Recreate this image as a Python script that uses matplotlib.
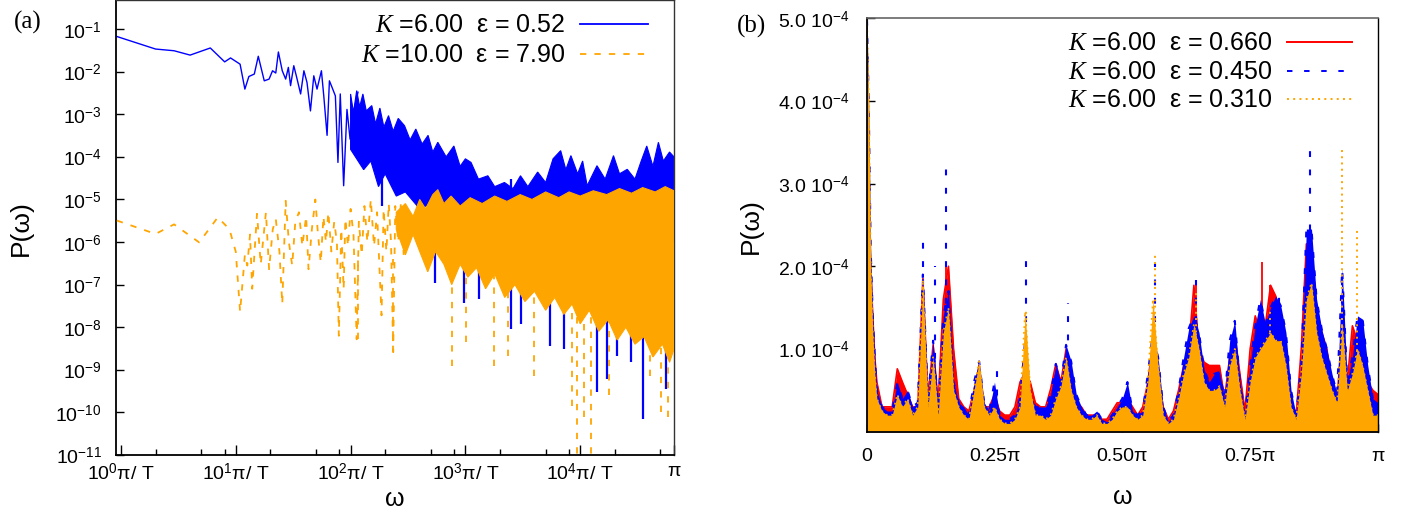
import numpy as np
import matplotlib
matplotlib.use("Agg")
import matplotlib.pyplot as plt
from matplotlib.ticker import NullFormatter

plt.rcParams['font.family'] = ['Liberation Sans', 'DejaVu Sans']
plt.rcParams['mathtext.fontset'] = 'custom'
plt.rcParams['mathtext.rm'] = 'Liberation Sans'
plt.rcParams['mathtext.it'] = 'Liberation Serif:italic'
plt.rcParams['mathtext.bf'] = 'Liberation Sans:bold'

# ---------------- Panel (a) data (omega in units of pi/T, T = 2^16) ----------------
T_a = 65536
# K=6.00, eps=0.52 : sparse low-frequency part
blue_x = [0.92, 2.0, 2.9, 4.0, 6.0, 8.0, 9.0, 10.9, 12.0, 13.0, 14.5, 15.7, 17.7, 19.5,
          20.9, 22.3, 23.5, 25.4, 27.2, 28.7, 30, 32, 33.9, 36.7, 39.2, 41.7, 44.7, 47.8,
          51, 55.7, 58.4, 62.4, 65.4, 68.9, 73.7, 77.6, 81.3, 87, 93, 99, 106, 116]
blue_P = [0.067, 0.034, 0.031, 0.0245, 0.036, 0.017, 0.021, 0.015, 0.0039, 0.0077, 0.0088,
          0.023, 0.0061, 0.0067, 0.0105, 0.0093, 0.029, 0.0105, 0.0067, 0.0126, 0.0047,
          0.0138, 0.0074, 0.0030, 0.0105, 0.0056, 0.0012, 0.0080, 0.0039, 0.0105, 0.0027,
          3.2e-4, 0.0061, 0.0043, 0.0027, 7.4e-5, 0.003, 2.1e-5, 0.0013, 2.6e-4, 0.0011, 0.0033]
# dense part: upper and lower edge of the band
blue_hi_x = [100, 106, 113, 120, 128, 137, 153, 165, 180, 195, 214, 235, 260, 295, 330, 370,
             420, 473, 520, 575, 680, 794, 900, 1000, 1120, 1300, 1570, 1800, 2190, 2600,
             3020, 3500, 4260, 5000, 5800, 6760, 7500, 8300, 9500, 10500, 11500, 14000,
             16500, 19500, 22000, 25700, 30000, 34000, 38000, 43000, 48000, 53000, 60000, 65536]
blue_hi_P = [3.0e-3, 1.1e-3, 3.6e-3, 1.5e-3, 3.0e-3, 1.2e-3, 1.6e-3, 6e-4, 1.4e-3, 5e-4,
             9.3e-4, 4e-4, 8e-4, 5.4e-4, 2.5e-4, 4.5e-4, 2.0e-4, 3.2e-4, 1.3e-4, 2.2e-4,
             1.0e-4, 1.8e-4, 6e-5, 9e-5, 7.4e-5, 3e-5, 3.6e-5, 2e-5, 2.5e-5, 1.8e-5, 3.6e-5,
             2e-5, 4.4e-5, 2.5e-5, 9e-5, 1.4e-4, 5e-5, 1.07e-4, 4e-5, 8e-5, 2.1e-5, 6.2e-5,
             3e-5, 1.07e-4, 4e-5, 5.1e-5, 3e-5, 8e-5, 1.8e-4, 6e-5, 2.2e-4, 8e-5, 1.3e-4, 1.0e-4]
blue_lo_x = [100, 130, 150, 175, 200, 250, 300, 400, 500, 1000, 3000, 10000, 65536]
blue_lo_P = [1.5e-4, 5e-5, 8e-5, 2e-5, 4e-5, 1.2e-5, 1.5e-5, 6e-6, 8e-6, 4e-6, 2e-6, 1.5e-6, 1e-6]
blue_drop_x = [186, 390, 540, 980, 1320, 2500, 3020, 5500, 7200, 14000, 17000, 21000, 27500, 35500, 56000]
blue_drop_P = [7e-6, 2.9e-6, 1.1e-7, 3.8e-8, 4.6e-8, 9e-9, 1.2e-8, 3.7e-9, 3.1e-9, 3e-10,
               6e-10, 2.1e-9, 1.5e-9, 7e-11, 3.5e-10]

# K=10.00, eps=7.90
orange_x = [0.92, 2.0, 2.9, 4.8, 6.97, 8.8, 10.0, 10.9, 12.0, 12.6, 13.3, 13.9, 15.3, 16.5,
            18.3, 19.5, 21, 22.3, 24, 25.4, 27.2, 29, 31, 33, 35.5, 38, 41, 43, 46, 49.3,
            52, 55, 58, 61, 64, 68, 72, 76, 79, 83, 87, 90, 95, 100, 106, 113, 118, 125,
            132, 140, 150, 160, 170, 186, 194, 205, 215, 225, 235, 245, 260, 275, 290]
orange_P = [3.2e-6, 1.55e-6, 2.6e-6, 9.8e-7, 3.8e-6, 2.0e-6, 5.9e-7, 2.3e-8, 5e-7, 2.8e-7,
            1.5e-6, 8e-8, 4.6e-6, 3e-7, 5e-6, 2.3e-7, 2e-6, 3.5e-6, 6e-7, 3.5e-8, 9.3e-6,
            1e-6, 2.8e-7, 3e-6, 5e-6, 8e-7, 4e-6, 2.3e-7, 2e-6, 1e-5, 1.5e-6, 3.3e-7, 4e-6,
            1e-6, 5e-6, 6e-7, 3e-6, 1e-6, 6.3e-9, 2e-6, 7.9e-8, 3.5e-6, 8e-7, 6e-6, 1.5e-6,
            5.2e-9, 3e-6, 5e-7, 7e-6, 1e-6, 1e-5, 8e-7, 5e-6, 1.9e-8, 5.9e-6, 6e-7, 8e-6,
            1e-6, 2.6e-9, 7e-6, 1e-6, 9e-6, 5e-7]
orange_hi_x = [250, 300, 350, 400, 450, 520, 575, 650, 750, 900, 1100, 1400, 1800, 2300,
               3000, 3800, 5000, 6500, 8000, 10000, 13000, 17000, 22000, 28000, 35000,
               45000, 55000, 65536]
orange_hi_P = [5e-6, 8e-6, 4e-6, 1e-5, 6e-6, 1.3e-5, 1.7e-5, 8e-6, 1.2e-5, 7e-6, 1.1e-5,
               8e-6, 1.2e-5, 9e-6, 1.3e-5, 1e-5, 1.5e-5, 1.1e-5, 1.5e-5, 1.2e-5, 1.6e-5,
               1.3e-5, 1.8e-5, 1.4e-5, 1.9e-5, 1.5e-5, 2.0e-5, 1.6e-5]
orange_lo_x = [250, 300, 350, 400, 470, 550, 650, 760, 900, 1050, 1250, 1500, 1800, 2200,
               2700, 3300, 4000, 5000, 6000, 7200, 8500, 10000, 12000, 14500, 17500, 21000,
               25000, 30000, 36000, 43000, 52000, 60000, 65536]
orange_lo_P = [2e-6, 5e-7, 1.5e-6, 6e-7, 2e-7, 6e-7, 3e-7, 1e-7, 3e-7, 1.5e-7, 2.5e-7,
               8e-8, 1.8e-7, 5e-8, 1e-7, 4e-8, 7e-8, 2.5e-8, 5e-8, 2e-8, 3.5e-8, 1.2e-8,
               2.5e-8, 8e-9, 1.5e-8, 5e-9, 1e-8, 4e-9, 6e-9, 2e-9, 4e-9, 1.5e-9, 3e-9]
orange_drop_x = [117, 235, 760, 1020, 1780, 2340, 3980, 8500, 9400, 10700, 12300, 17700, 40700, 51000, 58600]
orange_drop_P = [5.2e-9, 2.6e-9, 1.25e-9, 4.5e-9, 1.25e-9, 2.1e-9, 7.2e-10, 1.4e-10, 5e-12,
                 8e-11, 5e-12, 2.5e-10, 7.2e-10, 1e-10, 8e-11]

xticks_a = [1, 10, 100, 1000, 10000, T_a]
xticklabels_a = ['$10^{0}$π/ T', '$10^{1}$π/ T', '$10^{2}$π/ T', '$10^{3}$π/ T', '$10^{4}$π/ T', 'π']
yticks_a = [1e-1, 1e-2, 1e-3, 1e-4, 1e-5, 1e-6, 1e-7, 1e-8, 1e-9, 1e-10, 1e-11]
yticklabels_a = ['$10^{-%d}$' % k for k in range(1, 12)]
legend_a = ['$K$ =6.00  ε = 0.52', '$K$ =10.00  ε = 7.90']

# ---------------- Panel (b) data (omega in units of pi, P in units of 1e-4) ----------------
omega_b = np.concatenate([[0.0, 0.004, 0.008, 0.012, 0.016], np.arange(0.02, 1.0001, 0.01)])
P_red = [5.2, 2.7, 2.0, 1.4, 0.9, 0.6,
         0.3, 0.3, 0.3, 0.76, 0.6, 0.45, 0.3, 0.3, 1.85, 0.4, 1.05, 0.35, 1.6, 2.0, 1.0, 0.4,
         0.3, 0.25, 0.5, 0.8, 0.3, 0.3, 0.45, 0.25, 0.2, 0.2, 0.3, 0.6, 0.72, 0.6, 0.35, 0.3,
         0.3, 0.52, 0.82, 0.6, 1.0, 0.6, 0.35, 0.3, 0.2, 0.2, 0.2, 0.15, 0.15, 0.25, 0.35,
         0.35, 0.4, 0.3, 0.2, 0.3, 0.6, 1.1, 0.7, 0.3, 0.15, 0.25, 0.5, 0.8, 1.0, 1.77, 1.0,
         0.84, 0.8, 0.8, 0.8, 0.4, 0.9, 1.18, 0.7, 0.25, 1.0, 1.4, 1.2, 1.3, 1.77, 1.64, 1.4,
         1.0, 0.4, 0.2, 1.0, 2.27, 2.2, 1.5, 1.2, 1.0, 0.6, 0.4, 1.2, 0.6, 1.28, 1.1, 0.8,
         0.6, 0.5, 0.45]
P_blue = [5.2, 4.0, 2.2, 1.4, 0.9, 0.5,
          0.3, 0.25, 0.25, 0.6, 0.4, 0.5, 0.3, 0.35, 1.9, 0.4, 1.1, 0.3, 1.4, 1.7, 0.6, 0.35,
          0.3, 0.2, 0.6, 0.85, 0.35, 0.25, 0.6, 0.2, 0.15, 0.15, 0.2, 0.4, 1.1, 0.45, 0.3, 0.3,
          0.3, 0.45, 0.82, 0.6, 1.05, 0.85, 0.45, 0.3, 0.2, 0.2, 0.25, 0.15, 0.12, 0.2, 0.3,
          0.4, 0.6, 0.25, 0.2, 0.25, 0.7, 1.2, 0.9, 0.3, 0.12, 0.2, 0.5, 0.9, 1.25, 1.4, 1.2,
          0.75, 0.6, 0.7, 0.72, 0.4, 1.1, 1.34, 0.6, 0.2, 0.8, 1.28, 1.6, 1.3, 1.5, 1.64, 1.52,
          1.2, 0.5, 0.2, 0.8, 2.45, 2.45, 1.6, 1.24, 1.0, 0.7, 0.45, 1.97, 0.6, 0.9, 1.4, 1.36,
          0.8, 0.4, 0.35]
P_orange = [5.2, 4.0, 2.0, 1.2, 0.7, 0.4,
            0.25, 0.2, 0.2, 0.45, 0.3, 0.4, 0.2, 0.3, 1.8, 0.3, 0.9, 0.2, 1.2, 1.5, 0.5, 0.3,
            0.2, 0.15, 0.5, 0.85, 0.3, 0.2, 0.3, 0.15, 0.1, 0.1, 0.15, 0.3, 1.45, 0.5, 0.2, 0.2,
            0.15, 0.2, 0.4, 0.55, 0.9, 0.5, 0.3, 0.2, 0.15, 0.15, 0.2, 0.1, 0.1, 0.15, 0.25,
            0.3, 0.3, 0.2, 0.15, 0.2, 0.6, 1.6, 0.8, 0.2, 0.1, 0.15, 0.4, 0.7, 0.9, 1.3, 1.0,
            0.6, 0.5, 0.5, 0.55, 0.3, 0.8, 1.0, 0.5, 0.15, 0.6, 0.9, 1.0, 1.1, 1.2, 1.1, 1.1,
            0.8, 0.3, 0.15, 0.7, 1.6, 1.8, 1.2, 0.9, 0.7, 0.5, 0.35, 1.3, 0.5, 0.7, 1.0, 0.8,
            0.5, 0.2, 0.2]
red_spike_x = [0.006, 0.155, 0.645, 0.773, 0.788]
red_spike_P = [2.7, 2.0, 1.77, 2.05, 1.77]
blue_spike_x = [0.111, 0.133, 0.155, 0.254, 0.312, 0.393, 0.563, 0.645, 0.807, 0.868, 0.930]
blue_spike_P = [2.4, 2.0, 3.3, 0.85, 2.07, 1.55, 2.03, 1.83, 1.65, 3.40, 1.97]
orange_spike_x = [0.111, 0.312, 0.563, 0.645, 0.788, 0.930, 0.959]
orange_spike_P = [1.85, 1.48, 2.15, 1.73, 1.46, 3.40, 2.45]
unit_b = 1e-4
xticks_b = [0.0, 0.25, 0.5, 0.75, 1.0]
xticklabels_b = ['0', '0.25π', '0.50π', '0.75π', 'π']
yticks_b = [1e-4, 2e-4, 3e-4, 4e-4, 5e-4]
yticklabels_b = ['1.0 $10^{-4}$', '2.0 $10^{-4}$', '3.0 $10^{-4}$', '4.0 $10^{-4}$', '5.0 $10^{-4}$']
legend_b = ['$K$ =6.00  ε = 0.660', '$K$ =6.00  ε = 0.450', '$K$ =6.00  ε = 0.310']

BLUE = '#0000ff'
ORANGE = '#ffa500'
RED = '#ff0000'
DASH_A = (0, (3.5, 4.5))
DASH_B = (0, (2.8, 6.0))
DOT_B = (0, (1.0, 2.2))

fig = plt.figure(figsize=(14.2, 5.1), dpi=100)

# ---------------- Panel (a) ----------------
ax = fig.add_axes([0.0815, 0.1059, 0.3931, 0.892])
ax.set_xscale('log')
ax.set_yscale('log')
ax.plot(blue_x, blue_P, color=BLUE, lw=1.0, zorder=2)
ax.fill(np.r_[blue_hi_x, blue_lo_x[::-1]], np.r_[blue_hi_P, blue_lo_P[::-1]],
        facecolor=BLUE, edgecolor=BLUE, lw=0.8, zorder=2)
ax.vlines(blue_drop_x, blue_drop_P, 3e-5, color=BLUE, lw=1.6, zorder=2)
ax.plot(orange_x, orange_P, color=ORANGE, lw=1.3, linestyle=DASH_A, zorder=3)
ax.fill(np.r_[orange_hi_x, orange_lo_x[::-1]], np.r_[orange_hi_P, orange_lo_P[::-1]],
        facecolor=ORANGE, edgecolor=ORANGE, lw=0.8, zorder=3)
ax.vlines(orange_drop_x, orange_drop_P, 5e-7, color=ORANGE, lw=1.3, linestyle=DASH_A, zorder=3)

ax.set_xlim(0.9, T_a)
ax.set_ylim(1e-11, 0.48)
ax.set_xticks(xticks_a)
ax.set_xticklabels(xticklabels_a)
ax.set_xticks([2, 5, 8, 20, 50, 80, 200, 500, 800, 2000, 5000, 8000, 20000, 50000], minor=True)
ax.xaxis.set_minor_formatter(NullFormatter())
ax.set_yticks(yticks_a)
ax.set_yticklabels(yticklabels_a)
ax.yaxis.set_minor_locator(matplotlib.ticker.NullLocator())
ax.tick_params(axis='both', which='major', direction='in', labelsize=14, width=1.0, colors='black')
ax.tick_params(axis='x', which='major', length=7, pad=5)
ax.tick_params(axis='x', which='minor', direction='in', length=4.3, width=1.0)
ax.tick_params(axis='y', which='major', length=5.5, pad=10)
ax.set_xlabel('ω', fontsize=18)
ax.xaxis.set_label_coords(0.5, -0.068)
ax.set_ylabel('P(ω)', fontsize=19)
ax.yaxis.set_label_coords(-0.148, 0.5)
for s in ['left', 'bottom']:
    ax.spines[s].set_linewidth(1.3)
for s in ['top', 'right']:
    ax.spines[s].set_linewidth(1.0)
    ax.spines[s].set_color('#333333')

leg_rows_a = [0.947, 0.881]
for lab, yy, col, ls in zip(legend_a, leg_rows_a, [BLUE, ORANGE], ['-', DASH_A]):
    ax.text(0.805, yy, lab, transform=ax.transAxes, ha='right', va='center', fontsize=18)
    ax.plot([0.832, 0.953], [yy, yy], transform=ax.transAxes, color=col, lw=1.3, linestyle=ls)
fig.text(28 / 1420, 1 - 22 / 510, '(a)', family='Liberation Serif', fontsize=18, ha='center', va='center')

# ---------------- Panel (b) ----------------
bx = fig.add_axes([0.6103, 0.1516, 0.3601, 0.811])
wb = omega_b * np.pi
bx.fill_between(wb, 0, np.array(P_red) * unit_b, color=RED, lw=0, zorder=2)
bx.plot(wb, np.array(P_red) * unit_b, color=RED, lw=1.2, zorder=2)
bx.vlines(np.array(red_spike_x) * np.pi, 0, np.array(red_spike_P) * unit_b, color=RED, lw=1.3, zorder=2)
bx.fill_between(wb, 0, np.array(P_blue) * unit_b, color=BLUE, lw=0, zorder=3)
bx.plot(wb, np.array(P_blue) * unit_b, color=BLUE, lw=1.5, linestyle=DASH_B, zorder=3)
bx.vlines(np.array(blue_spike_x) * np.pi, 0, np.array(blue_spike_P) * unit_b, color=BLUE,
          lw=1.5, linestyle=DASH_B, zorder=3)
bx.fill_between(wb, 0, np.array(P_orange) * unit_b, color=ORANGE, lw=0, zorder=4)
bx.plot(wb, np.array(P_orange) * unit_b, color=ORANGE, lw=1.3, linestyle=DOT_B, zorder=4)
bx.vlines(np.array(orange_spike_x) * np.pi, 0, np.array(orange_spike_P) * unit_b, color=ORANGE,
          lw=1.4, linestyle=DOT_B, zorder=4)

bx.set_xlim(0, np.pi)
bx.set_ylim(0, 5e-4)
bx.set_xticks(np.array(xticks_b) * np.pi)
bx.set_xticklabels(xticklabels_b)
bx.set_yticks(yticks_b)
bx.set_yticklabels(yticklabels_b)
bx.tick_params(axis='both', which='major', direction='in', labelsize=14, width=1.0, length=5.5)
bx.tick_params(axis='x', pad=11)
bx.tick_params(axis='y', pad=12)
bx.set_xlabel('ω', fontsize=18)
bx.xaxis.set_label_coords(0.5, -0.126)
bx.set_ylabel('P(ω)', fontsize=19)
bx.yaxis.set_label_coords(-0.2025, 0.5)
for s in ['left', 'bottom']:
    bx.spines[s].set_linewidth(1.3)
bx.spines['top'].set_color('#666666')
bx.spines['top'].set_linewidth(1.2)
bx.spines['right'].set_linewidth(1.0)
for s in bx.spines.values():
    s.set_zorder(6)

leg_rows_b = [0.942, 0.872, 0.804]
for lab, yy, col, ls in zip(legend_b, leg_rows_b, [RED, BLUE, ORANGE], ['-', DASH_B, DOT_B]):
    bx.text(0.7936, yy, lab, transform=bx.transAxes, ha='right', va='center', fontsize=18)
    bx.plot([0.8217, 0.9486], [yy, yy], transform=bx.transAxes, color=col, lw=1.4, linestyle=ls)
fig.text(752 / 1420, 1 - 26 / 510, '(b)', family='Liberation Serif', fontsize=18, ha='center', va='center')

fig.savefig('out.png', dpi=100)
